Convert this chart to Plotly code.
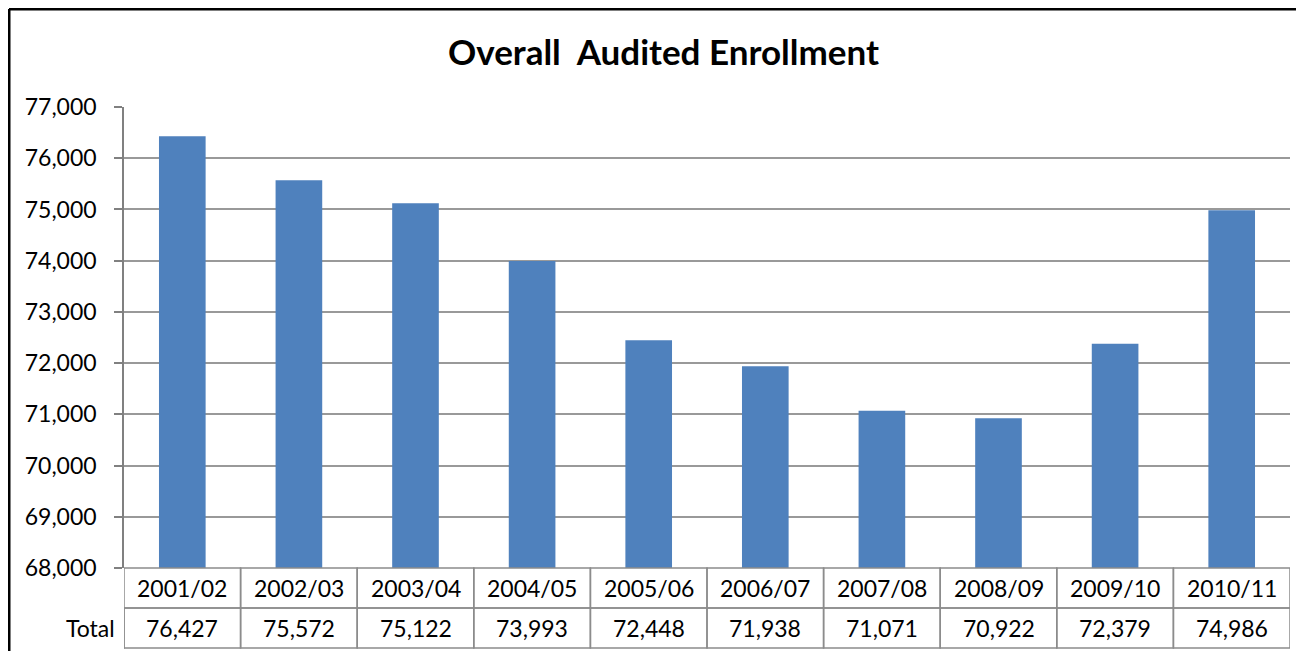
import plotly.graph_objects as go

categories = ["2001/02", "2002/03", "2003/04", "2004/05", "2005/06",
              "2006/07", "2007/08", "2008/09", "2009/10", "2010/11"]
totals = [76427, 75572, 75122, 73993, 72448, 71938, 71071, 70922, 72379, 74986]
row_label = "Total"
title_text = "Overall  Audited Enrollment"

FONT = "Lato, Carlito, Calibri, sans-serif"
GRID = "#999999"
AXIS = "#808080"
TABLE = "#8C8C8C"
ROW_H = 40
W, H = 1288, 644

fig = go.Figure()
fig.add_trace(go.Bar(
    x=list(range(len(categories))), y=totals,
    marker=dict(color="#4F81BD", line=dict(width=0)),
    width=0.4, hoverinfo="skip",
))

shapes = []
annotations = []
n = len(categories)
for i, (c, v) in enumerate(zip(categories, totals)):
    for r, txt in enumerate([c, f"{v:,}"]):
        shapes.append(dict(type="rect", xref="x", yref="paper", ysizemode="pixel",
                           yanchor=0, x0=i - 0.5, x1=i + 0.5,
                           y0=-ROW_H * (r + 1), y1=-ROW_H * r,
                           line=dict(color=TABLE, width=1.5), fillcolor="rgba(0,0,0,0)"))
        annotations.append(dict(xref="x", yref="paper", x=i, y=0,
                                yshift=-ROW_H * r - ROW_H / 2, text=txt, showarrow=False,
                                xanchor="center", yanchor="middle",
                                font=dict(family=FONT, size=23, color="#000")))
shapes.append(dict(type="rect", xref="x", yref="paper", xsizemode="pixel", ysizemode="pixel",
                   xanchor=-0.5, yanchor=0, x0=-67, x1=0, y0=-2 * ROW_H, y1=-ROW_H,
                   line=dict(color=TABLE, width=1.5), fillcolor="rgba(0,0,0,0)"))
annotations.append(dict(xref="paper", yref="paper", x=0, y=0, xshift=-33.5,
                        yshift=-1.5 * ROW_H, text=row_label, showarrow=False,
                        xanchor="center", yanchor="middle",
                        font=dict(family=FONT, size=23, color="#000")))
# outer chart border: top edge only (left drawn below)
shapes.append(dict(type="line", xref="paper", yref="paper", xsizemode="pixel", ysizemode="pixel",
                   xanchor=0, yanchor=1, x0=-115, x1=W - 116, y0=98, y1=98,
                   line=dict(color="#000", width=3), layer="below"))
shapes.append(dict(type="line", xref="paper", yref="paper", xsizemode="pixel", ysizemode="pixel",
                   xanchor=0, yanchor=1, x0=-115, x1=-115, y0=-(H - 99) + 1, y1=98,
                   line=dict(color="#000", width=3), layer="below"))

fig.update_layout(
    width=W, height=H,
    margin=dict(l=116, r=6, t=99, b=84, pad=0),
    paper_bgcolor="white", plot_bgcolor="white",
    showlegend=False,
    title=dict(text=f"<b>{title_text}</b>", x=(663.5 - 8) / W, xref="container", xanchor="center",
               y=1 - 45 / H, yanchor="middle",
               font=dict(family=FONT, size=35, color="#000")),
    xaxis=dict(range=[-0.5, n - 0.5], showticklabels=False, showgrid=False,
               zeroline=False, showline=False, ticks=""),
    yaxis=dict(range=[68000, 77000], dtick=1000, tickformat=",",
               showgrid=True, gridcolor=GRID, gridwidth=1.5,
               showline=True, linecolor=AXIS, linewidth=1.5,
               ticks="outside", ticklen=8, tickcolor=AXIS, tickwidth=1.5,
               ticklabelstandoff=13,
               zeroline=False,
               tickfont=dict(family=FONT, size=23, color="#000")),
    shapes=shapes, annotations=annotations,
)

fig.write_html("out.html")
